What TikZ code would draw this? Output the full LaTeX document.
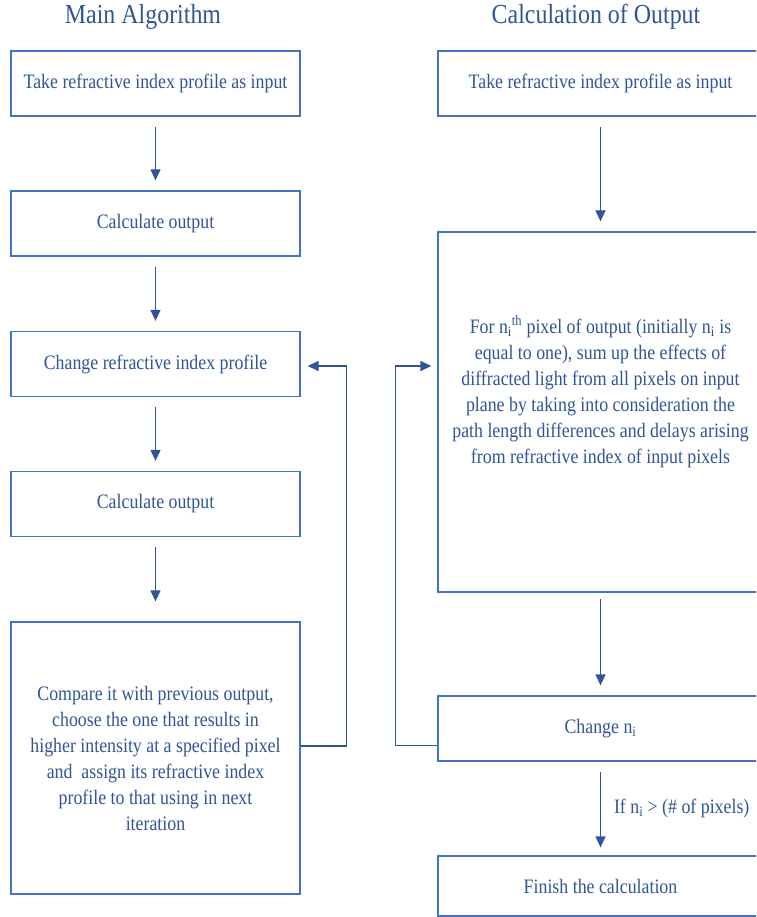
\documentclass[tikz,border=0pt]{standalone}
\usepackage{fontspec}
\setmainfont[FakeStretch=0.87]{Liberation Serif}
\usetikzlibrary{arrows.meta}
\definecolor{boxblue}{HTML}{4472C4}
\definecolor{inkblue}{HTML}{2F5597}

\begin{document}
\begin{tikzpicture}[
    x=1pt,
    y=-1pt,
    font=\fontsize{20.5}{26}\selectfont,
    text=inkblue,
    align=center,
    box/.style = {
      shape=rectangle,
      draw=boxblue,
      line width=1.3pt,
      minimum height=65pt,
      inner sep=0pt,
      align=center
    },
    mainbox/.style = {box, minimum width=289pt},
    calcbox/.style = {box, minimum width=325pt},
    title/.style = {font=\fontsize{27.5}{32}\selectfont},
    flow/.style = {
      draw=inkblue,
      line width=1.3pt,
      -{Triangle[length=11pt,width=10pt]},
      shorten <=10pt,
      shorten >=10pt
    }
    ]

    \clip (0,0) rectangle (756,917);

    % main algorithm
    \node[title] (mTitle) at (143,17) {Main Algorithm};
    \node[mainbox] (mInput) at (155.5,83.5) {Take refractive index profile as input};
    \node[mainbox] (mCalcA) at (155.5,223.5) {Calculate output};
    \node[mainbox] (mChange) at (155.5,364) {Change refractive index profile};
    \node[mainbox] (mCalcB) at (155.5,504) {Calculate output};
    \node[mainbox, minimum height=272pt] (mCompare) at (155.5,758) {Compare it with previous output,\\
      choose the one that results in\\
      higher intensity at a specified pixel\\
      and\ \ assign its refractive index\\
      profile to that using in next\\
      iteration};

    \draw[flow] (mInput) -- (mCalcA);
    \draw[flow] (mCalcA) -- (mChange);
    \draw[flow] (mChange) -- (mCalcB);
    \draw[flow, shorten >=20pt] (mCalcB) -- (mCompare);
    \draw[flow, shorten <=0pt, shorten >=7pt]
      ([yshift=12pt]mCompare.east) -- ++(46,0) |- ([yshift=-2pt]mChange.east);

    % calculation of output
    \node[title] (cTitle) at (596,17) {Calculation of Output};
    \node[calcbox] (cInput) at (600.5,83.5) {Take refractive index profile as input};
    \node[calcbox, minimum height=360pt] (cSum) at (600.5,412) {};
    \node[align=center] (cSumText) at (600.5,391.5) {For n\textsubscript{i}\textsuperscript{th} pixel of output (initially n\textsubscript{i} is\\
      equal to one), sum up the effects of\\
      diffracted light from all pixels on input\\
      plane by taking into consideration the\\
      path length differences and delays arising\\
      from refractive index of input pixels};
    \node[calcbox] (cChange) at (600.5,728.5) {Change n\textsubscript{i}};
    \node[calcbox, minimum height=60pt] (cFinish) at (600.5,886) {Finish the calculation};

    \draw[flow] (cInput) -- (cSum);
    \draw[flow, shorten <=6pt] (cSum) -- (cChange);
    \draw[flow, shorten >=8pt] (cChange) -- (cFinish)
      coordinate[pos=0.5] (cIf);
    \node[anchor=west] (cIfText) at ([xshift=10pt]cIf) {If n\textsubscript{i} > (\# of pixels)};
    \draw[flow, shorten <=0pt, shorten >=6pt]
      ([yshift=-17pt]cChange.west) -- ++(-42,0) |- ([yshift=46pt]cSum.west);

\end{tikzpicture}
\end{document}
